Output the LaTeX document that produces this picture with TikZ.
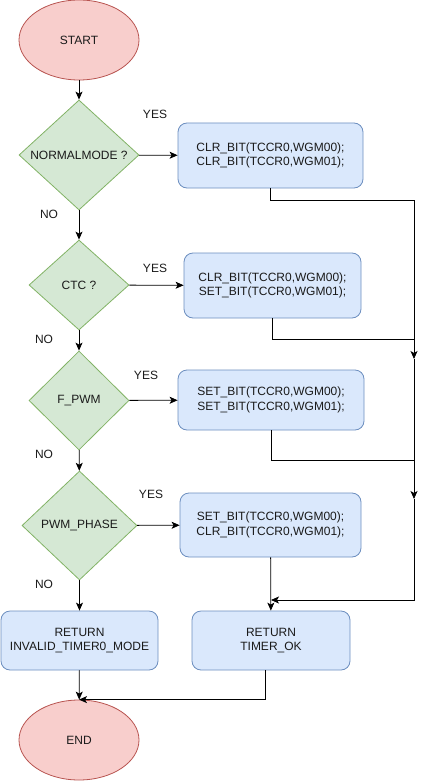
\documentclass[tikz,border=0pt]{standalone}
\usepackage{fontspec}
\setmainfont{Liberation Sans}
\usetikzlibrary{shapes.geometric,arrows.meta}
\definecolor{redfill}{HTML}{F8CECC}
\definecolor{redline}{HTML}{B85450}
\definecolor{greenfill}{HTML}{D5E8D4}
\definecolor{greenline}{HTML}{82B366}
\definecolor{bluefill}{HTML}{DAE8FC}
\definecolor{blueline}{HTML}{6C8EBF}
\definecolor{txt}{HTML}{1A1A1A}
\tikzset{
  base/.style={font=\fontsize{12}{14.5}\selectfont, text=txt, inner sep=0pt, line width=0.8pt},
  term/.style={base, ellipse, draw=redline, fill=redfill, minimum width=120pt, minimum height=80pt},
  decision/.style={base, diamond, draw=greenline, fill=greenfill},
  proc/.style={base, rectangle, rounded corners=9pt, draw=blueline, fill=bluefill, align=center},
  lbl/.style={font=\fontsize{12}{14.5}\selectfont, text=txt, inner sep=0pt},
  arr/.style={draw=black, line width=0.8pt, -{Stealth[length=8pt,width=7pt,inset=2pt]}},
  ln/.style={draw=black, line width=0.8pt}
}
\begin{document}
\begin{tikzpicture}[x=1pt,y=-1pt]
\useasboundingbox (0,0) rectangle (423,781);
\node[term] (start) at (79,40) {START};
\node[decision, minimum width=120pt, minimum height=110pt] (d1) at (79,155) {NORMALMODE ?};
\node[proc, minimum width=185pt, minimum height=65pt] (b1) at (270.5,155.5) {CLR\_BIT(TCCR0,WGM00);\\CLR\_BIT(TCCR0,WGM01);};
\node[decision, minimum width=100pt, minimum height=90pt] (d2) at (79,285) {CTC ?};
\node[proc, minimum width=177pt, minimum height=65pt] (b2) at (272.5,285.5) {CLR\_BIT(TCCR0,WGM00);\\SET\_BIT(TCCR0,WGM01);};
\node[decision, minimum width=100pt, minimum height=99pt] (d3) at (79,400.5) {F\_PWM};
\node[proc, minimum width=186pt, minimum height=60pt] (b3) at (271,400) {SET\_BIT(TCCR0,WGM00);\\SET\_BIT(TCCR0,WGM01);};
\node[decision, minimum width=115pt, minimum height=109pt] (d4) at (79.5,525.5) {PWM\_PHASE};
\node[proc, minimum width=181pt, minimum height=64pt] (b4) at (270.5,525) {SET\_BIT(TCCR0,WGM00);\\CLR\_BIT(TCCR0,WGM01);};
\node[proc, minimum width=157pt, minimum height=59pt] (inv) at (79.5,640.5) {RETURN\\INVALID\_TIMER0\_MODE};
\node[proc, minimum width=158pt, minimum height=59pt] (ok) at (271,640.5) {RETURN\\TIMER\_OK};
\node[term] (end) at (79,740) {END};

\node[lbl] (y1) at (155,114) {YES};
\node[lbl] (n1) at (49,214) {NO};
\node[lbl] (y2) at (155,268) {YES};
\node[lbl] (n2) at (44,339) {NO};
\node[lbl] (y3) at (146,375) {YES};
\node[lbl] (n3) at (44,454) {NO};
\node[lbl] (y4) at (151,494) {YES};
\node[lbl] (n4) at (44,584) {NO};

\coordinate (c1) at (414,200);
\coordinate (m1) at (414,359);
\coordinate (c2) at (414,339);
\coordinate (c3) at (414,460);
\coordinate (m2) at (414,499);
\coordinate (c5) at (271,600);

\draw[arr] (start) -- (d1);
\draw[arr] (d1) -- (b1);
\draw[arr] (d1) -- (d2);
\draw[arr] (d2) -- (b2);
\draw[arr] (d2) -- (d3);
\draw[arr] (d3) -- (b3);
\draw[arr] (d3) -- (d4);
\draw[arr] (d4) -- (b4);
\draw[arr] (d4) -- (inv);
\draw[arr] (b4) -- (ok);
\draw[arr] (inv) -- (end);
\draw[arr] ([xshift=-6pt]ok.south) |- (end.north);

\draw[arr] (b1.south) |- (c1) -- (m1);
\draw[ln] (b2.south) |- (c2);
\draw[arr] (m1) -- (m2);
\draw[ln] (b3.south) |- (c3);
\draw[arr] (m2) |- (c5);
\end{tikzpicture}
\end{document}
